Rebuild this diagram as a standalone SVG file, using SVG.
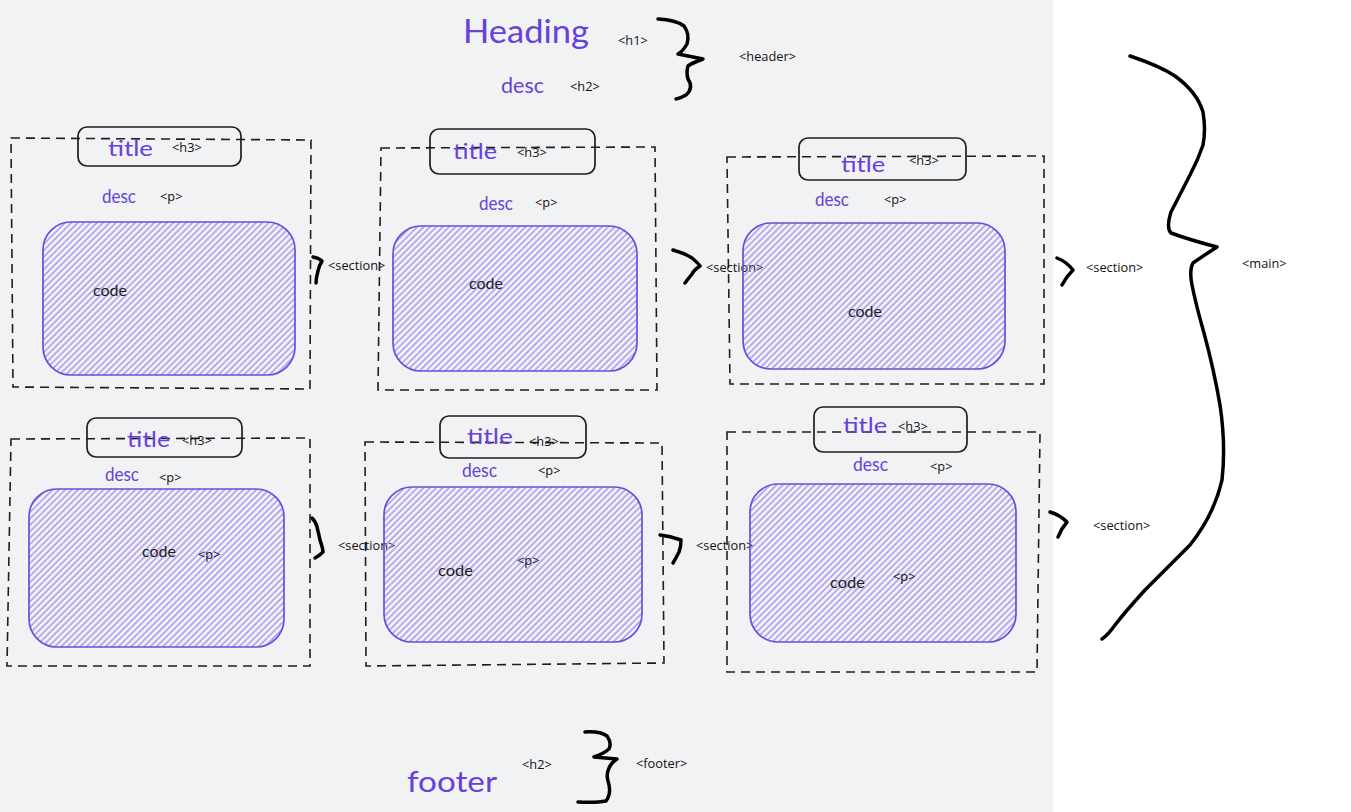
<svg xmlns="http://www.w3.org/2000/svg" width="1351" height="812" viewBox="0 0 1351 812">
<defs>
<pattern id="hatch" patternUnits="userSpaceOnUse" width="4.5" height="4.5" patternTransform="rotate(45)">
<line x1="1" y1="0" x2="1" y2="4.5" stroke="#9a80f2" stroke-width="1.2"/>
</pattern>
<style>
.hand{font-family:Lato,"Noto Sans",sans-serif;fill:#6741d9;}
.code{font-family:Lato,"Noto Sans",sans-serif;fill:#1e1e1e;font-size:16px;}
.tag{font-family:"Open Sans","Liberation Sans",sans-serif;font-size:12.8px;fill:#111;}
.dash{fill:none;stroke:#1e1e1e;stroke-width:1.6;stroke-dasharray:9 6;}
.tbox{fill:none;stroke:#1e1e1e;stroke-width:1.7;}
.codebox{fill:url(#hatch);stroke:#6a4fd9;stroke-width:1.7;}
.brace{fill:none;stroke:#000;stroke-width:3.5;stroke-linecap:round;stroke-linejoin:round;}
</style>
</defs>
<rect x="0" y="0" width="1351" height="812" fill="#ffffff"/>
<rect x="0" y="0" width="1053" height="812" fill="#f1f2f4"/>

<g id="header">
<text class="hand" x="463" y="43" font-size="32" textLength="126" lengthAdjust="spacingAndGlyphs">Heading</text>
<text class="tag" x="618" y="45">&lt;h1&gt;</text>
<text class="hand" x="501" y="93" font-size="21" textLength="43" lengthAdjust="spacingAndGlyphs">desc</text>
<text class="tag" x="570" y="91">&lt;h2&gt;</text>
<text class="tag" x="739" y="61">&lt;header&gt;</text>
</g>

<g id="section1">
<path class="dash" d="M11 138 L311 140 L310 389 L13 387 Z"/>
<rect class="tbox" x="78" y="127" width="163" height="39" rx="9"/>
<text class="hand" x="108" y="156" font-size="22" textLength="45" lengthAdjust="spacingAndGlyphs">title</text>
<text class="tag" x="172" y="152">&lt;h3&gt;</text>
<text class="hand" x="102" y="203" font-size="19" textLength="34" lengthAdjust="spacingAndGlyphs">desc</text>
<text class="tag" x="160" y="201">&lt;p&gt;</text>
<rect class="codebox" x="43" y="222" width="252" height="153" rx="28"/>
<text class="code" x="93" y="296" textLength="34" lengthAdjust="spacingAndGlyphs">code</text>
<text class="tag" x="328" y="270">&lt;section&gt;</text>
</g>

<g id="section2">
<path class="dash" d="M381 148 L655 147 L657 390 L378 390 Z"/>
<rect class="tbox" x="430" y="129" width="165" height="45" rx="9"/>
<text class="hand" x="453" y="159" font-size="22" textLength="44" lengthAdjust="spacingAndGlyphs">title</text>
<text class="tag" x="517" y="157">&lt;h3&gt;</text>
<text class="hand" x="479" y="210" font-size="19" textLength="34" lengthAdjust="spacingAndGlyphs">desc</text>
<text class="tag" x="535" y="207">&lt;p&gt;</text>
<rect class="codebox" x="393" y="226" width="244" height="145" rx="28"/>
<text class="code" x="469" y="289" textLength="34" lengthAdjust="spacingAndGlyphs">code</text>
<text class="tag" x="706" y="272">&lt;section&gt;</text>
</g>

<g id="section3">
<path class="dash" d="M727 157 L1044 156 L1044 384 L730 384 Z"/>
<rect class="tbox" x="799" y="138" width="167" height="42" rx="9"/>
<text class="hand" x="841" y="172" font-size="22" textLength="44" lengthAdjust="spacingAndGlyphs">title</text>
<text class="tag" x="909" y="165">&lt;h3&gt;</text>
<text class="hand" x="815" y="206" font-size="19" textLength="34" lengthAdjust="spacingAndGlyphs">desc</text>
<text class="tag" x="884" y="204">&lt;p&gt;</text>
<rect class="codebox" x="743" y="223" width="262" height="146" rx="28"/>
<text class="code" x="848" y="317" textLength="34" lengthAdjust="spacingAndGlyphs">code</text>
<text class="tag" x="1086" y="272">&lt;section&gt;</text>
</g>

<g id="section4">
<path class="dash" d="M11 439 L310 438 L310 666 L7 666 Z"/>
<rect class="tbox" x="87" y="418" width="155" height="39" rx="9"/>
<text class="hand" x="127" y="447" font-size="22" textLength="43" lengthAdjust="spacingAndGlyphs">title</text>
<text class="tag" x="182" y="445">&lt;h3&gt;</text>
<text class="hand" x="105" y="481" font-size="19" textLength="34" lengthAdjust="spacingAndGlyphs">desc</text>
<text class="tag" x="159" y="482">&lt;p&gt;</text>
<rect class="codebox" x="29" y="489" width="255" height="158" rx="28"/>
<text class="code" x="142" y="557" textLength="34" lengthAdjust="spacingAndGlyphs">code</text>
<text class="tag" x="198" y="559">&lt;p&gt;</text>
<text class="tag" x="338" y="550">&lt;section&gt;</text>
</g>

<g id="section5">
<path class="dash" d="M365 442 L662 443 L664 663 L366 666 Z"/>
<rect class="tbox" x="440" y="416" width="146" height="42" rx="9"/>
<text class="hand" x="467" y="444" font-size="22" textLength="46" lengthAdjust="spacingAndGlyphs">title</text>
<text class="tag" x="529" y="446">&lt;h3&gt;</text>
<text class="hand" x="462" y="477" font-size="19" textLength="35" lengthAdjust="spacingAndGlyphs">desc</text>
<text class="tag" x="538" y="475">&lt;p&gt;</text>
<rect class="codebox" x="384" y="487" width="258" height="155" rx="28"/>
<text class="code" x="438" y="576" textLength="35" lengthAdjust="spacingAndGlyphs">code</text>
<text class="tag" x="517" y="565">&lt;p&gt;</text>
<text class="tag" x="696" y="550">&lt;section&gt;</text>
</g>

<g id="section6">
<path class="dash" d="M727 432 L1040 432 L1037 672 L727 672 Z"/>
<rect class="tbox" x="814" y="407" width="153" height="45" rx="9"/>
<text class="hand" x="843" y="433" font-size="22" textLength="44" lengthAdjust="spacingAndGlyphs">title</text>
<text class="tag" x="898" y="431">&lt;h3&gt;</text>
<text class="hand" x="853" y="471" font-size="19" textLength="35" lengthAdjust="spacingAndGlyphs">desc</text>
<text class="tag" x="930" y="471">&lt;p&gt;</text>
<rect class="codebox" x="750" y="484" width="266" height="158" rx="28"/>
<text class="code" x="830" y="588" textLength="35" lengthAdjust="spacingAndGlyphs">code</text>
<text class="tag" x="893" y="581">&lt;p&gt;</text>
<text class="tag" x="1093" y="530">&lt;section&gt;</text>
</g>

<g id="main-label">
<text class="tag" x="1242" y="268">&lt;main&gt;</text>
</g>

<g id="footer">
<text class="hand" x="407" y="792" font-size="29" textLength="90" lengthAdjust="spacingAndGlyphs">footer</text>
<text class="tag" x="522" y="769">&lt;h2&gt;</text>
<text class="tag" x="636" y="768">&lt;footer&gt;</text>
</g>

<g id="connectors">
<path class="brace" d="M658 19 Q676 20 684 26 Q690 34 687 44 Q683 51 678 54 L703 59 Q692 63 688 66 Q686 72 688 79 Q694 88 686 95 Q681 98 676 99"/>
<path class="brace" d="M585 732 Q600 731 607 736 Q612 743 609 749 Q603 754 594 757 L617 759 Q611 763 609 768 Q606 774 608 781 Q612 793 606 801 Q596 803 578 802"/>
<path class="brace" d="M1130 56 Q1160 66 1175 76 Q1197 92 1203 112 Q1206 130 1203 145 Q1198 160 1190 175 L1171 212 Q1166 228 1171 233 Q1190 240 1217 247 Q1200 258 1193 263 Q1189 270 1192 285 Q1196 305 1204 333 Q1214 370 1220 405 Q1226 445 1222 480 Q1214 515 1190 545 Q1165 570 1145 590 Q1125 612 1115 625 Q1108 635 1102 639"/>
<path class="brace" d="M313 257 Q319 258 322 261 Q319 266 318 271 Q316 278 316 283"/>
<path class="brace" d="M673 250 Q684 253 692 258 Q698 263 700 266 Q694 270 692 274 Q688 279 685 283"/>
<path class="brace" d="M1057 258 Q1067 262 1073 270 Q1066 277 1062 285"/>
<path class="brace" d="M312 518 Q316 522 317 527 Q319 535 320 540 Q323 549 323 552 Q319 556 315 558"/>
<path class="brace" d="M660 535 Q670 536 681 540 Q681 547 679 552 Q676 558 673 563"/>
<path class="brace" d="M1050 512 Q1060 515 1067 522 Q1061 529 1058 537"/>
</g>
</svg>
